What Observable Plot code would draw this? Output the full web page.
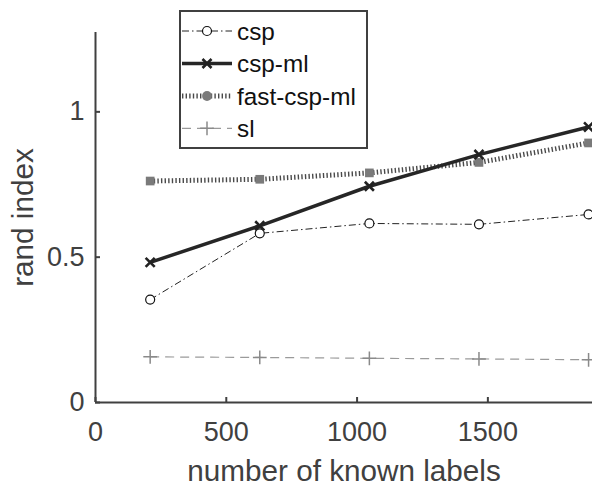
<!DOCTYPE html>
<html>
<head>
<meta charset="utf-8">
<script src="https://cdn.jsdelivr.net/npm/d3@7"></script>
<script src="https://cdn.jsdelivr.net/npm/@observablehq/plot@0.6"></script>
<style>
  html, body { margin: 0; padding: 0; background: #fff; }
  #wrap { position: relative; width: 592px; height: 486px; overflow: hidden; }
  #legend { position: absolute; left: 0; top: 0; }
</style>
</head>
<body>
<div id="wrap"></div>
<script>
// ---- data ----
const knownLabels = [209, 628, 1047, 1466, 1885];
const csp        = [0.354, 0.582, 0.616, 0.613, 0.647];
const cspMl      = [0.482, 0.608, 0.744, 0.853, 0.948];
const fastCspMl  = [0.762, 0.768, 0.790, 0.826, 0.893];
const sl         = [0.157, 0.155, 0.152, 0.150, 0.147];
const seriesNames = ["csp", "csp-ml", "fast-csp-ml", "sl"];
const xTicks = [0, 500, 1000, 1500];
const yTicks = [0, 0.5, 1];
const xLabel = "number of known labels";
const yLabel = "rand index";

const toRows = (vals) => knownLabels.map((x, i) => ({x, y: vals[i]}));
const rCsp = toRows(csp), rCspMl = toRows(cspMl), rFast = toRows(fastCspMl), rSl = toRows(sl);

const axisColor = "#404040";
const font = "'Liberation Sans', Arial, Helvetica, sans-serif";

// series styles (shared with legend)
const styles = {
  "csp":         {stroke: "#222", strokeWidth: 1, dash: "7,3,1.5,3", symbol: "circle", legendSymbol: "circle", fill: "white", mstroke: "#111", r: 4.5, mw: 1.2},
  "csp-ml":      {stroke: "#262626", strokeWidth: 3.5, dash: null, symbol: "times", legendSymbol: "times", fill: "none", mstroke: "#222", r: 4.2, mw: 2.6},
  "fast-csp-ml": {stroke: "#4a4a4a", strokeWidth: 5, dash: "1.4,2.2", symbol: "square", legendSymbol: "circle", fill: "#7a7a7a", mstroke: "none", r: 4.9, mw: 0},
  "sl":          {stroke: "#9a9a9a", strokeWidth: 1.2, dash: "9,6", symbol: "plus", legendSymbol: "plus", fill: "none", mstroke: "#8a8a8a", r: 4.5, mw: 1.5}
};

const seriesRows = {"csp": rCsp, "csp-ml": rCspMl, "fast-csp-ml": rFast, "sl": rSl};

const marks = [];
for (const name of ["sl", "csp", "fast-csp-ml", "csp-ml"]) {
  const s = styles[name];
  marks.push(Plot.line(seriesRows[name], {x: "x", y: "y", stroke: s.stroke, strokeWidth: s.strokeWidth, strokeDasharray: s.dash || undefined, strokeLinecap: "butt", strokeLinejoin: "miter"}));
}
for (const name of ["sl", "csp", "fast-csp-ml", "csp-ml"]) {
  const s = styles[name];
  marks.push(Plot.dot(seriesRows[name], {x: "x", y: "y", symbol: s.symbol, r: s.r, fill: s.fill, stroke: s.mstroke, strokeWidth: s.mw}));
}

const chart = Plot.plot({
  width: 592,
  height: 486,
  marginLeft: 95,
  marginRight: 0,
  marginTop: 32,
  marginBottom: 84,
  style: {fontFamily: font, background: "white", color: axisColor, overflow: "hidden"},
  x: {domain: [0, 1900]},
  y: {domain: [0, 1.273]},
  marks: [
    ...marks,
    Plot.ruleY([0], {stroke: axisColor, strokeWidth: 2}),
    Plot.ruleX([0], {stroke: axisColor, strokeWidth: 2}),
    Plot.tickX(xTicks, {x: d => d, stroke: axisColor, strokeWidth: 2, insetTop: 365}),
    Plot.tickY(yTicks, {y: d => d, stroke: axisColor, strokeWidth: 2, insetRight: 492}),
    Plot.axisX({ticks: xTicks, tickSize: 0, tickPadding: 19, fontSize: 27, label: xLabel, labelAnchor: "center", labelArrow: "none", labelOffset: 78, tickFormat: d => String(d)}),
    Plot.axisY({ticks: yTicks, tickSize: 0, tickPadding: 11, fontSize: 27, label: yLabel, labelAnchor: "center", labelArrow: "none", labelOffset: 84, tickFormat: d => String(d)})
  ]
});

d3.select(chart).selectAll("g[aria-label='x-axis label'] text, g[aria-label='y-axis label'] text").style("font-size", "29.7px");

const wrap = document.getElementById("wrap");
wrap.appendChild(chart);

// ---- legend overlay ----
const svg = d3.select(wrap).append("svg").attr("id", "legend")
  .attr("width", 592).attr("height", 486)
  .style("font-family", font);
const box = {x: 180, y: 11, w: 187, h: 137};
svg.append("rect").attr("x", box.x).attr("y", box.y).attr("width", box.w).attr("height", box.h)
  .attr("fill", "white").attr("stroke", axisColor).attr("stroke-width", 2);
const rowY = [31, 63.5, 96, 128.3];
const symMap = {circle: d3.symbolCircle, times: d3.symbolTimes, square: d3.symbolSquare, plus: d3.symbolPlus};
seriesNames.forEach((name, i) => {
  const s = styles[name];
  const y = rowY[i];
  svg.append("line").attr("x1", 182).attr("x2", 232).attr("y1", y).attr("y2", y)
    .attr("stroke", s.stroke).attr("stroke-width", s.strokeWidth)
    .attr("stroke-dasharray", s.dash || null);
  svg.append("path").attr("transform", `translate(207,${y})`)
    .attr("d", d3.symbol(symMap[s.legendSymbol], Math.PI * s.r * s.r)())
    .attr("fill", s.fill).attr("stroke", s.mstroke).attr("stroke-width", s.mw);
  svg.append("text").attr("x", 237).attr("y", y).attr("dy", "0.35em")
    .attr("font-size", 24.3).attr("fill", "#111").text(name);
});
</script>
</body>
</html>
